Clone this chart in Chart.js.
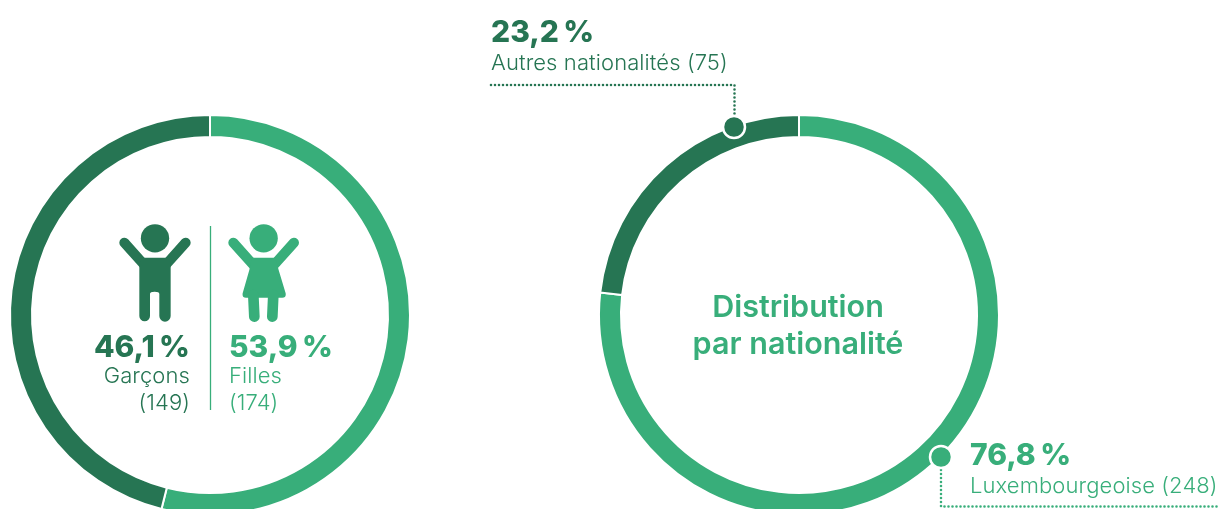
<!DOCTYPE html>
<html lang="fr"><head><meta charset="utf-8">
<script src="https://cdn.jsdelivr.net/npm/chart.js@4/dist/chart.umd.min.js"></script>
<style>
html,body{margin:0;padding:0;width:1218px;height:509px;overflow:hidden;background:#fff}
canvas,svg,.t{position:absolute}
svg{left:0;top:0}
.t{white-space:nowrap;line-height:1}
.big{font:800 30px Inter,sans-serif;letter-spacing:-.4px}
.small{font:300 22px Inter,sans-serif;letter-spacing:.1px}
.dark{color:#267553}.light{color:#38AE7A}
.title{font:600 30.5px/37px Inter,sans-serif;color:#38AE7A;text-align:center;width:300px;left:648px;top:287px}
</style></head><body>
<canvas id="c1" width="440" height="440" style="left:-10px;top:95px"></canvas>
<canvas id="c2" width="440" height="440" style="left:579px;top:95px"></canvas>
<svg width="1218" height="509">
 <g fill="none" stroke-linecap="round">
  <path d="M491 85H734.5V116" stroke="#267553" stroke-width="2.6" stroke-dasharray="0 4"/>
  <path d="M941 470V506.5H1218" stroke="#38AE7A" stroke-width="2.6" stroke-dasharray="0 4"/>
 </g>
 <circle cx="734" cy="127" r="11" fill="#267553" stroke="#fff" stroke-width="2.5"/>
 <circle cx="941" cy="457" r="11" fill="#38AE7A" stroke="#fff" stroke-width="2.5"/>
 <line x1="210.5" y1="226" x2="210.5" y2="410" stroke="#38AE7A" stroke-width="1.3"/>
 <g transform="translate(90 210) scale(.3333)">
  <g fill="#267553" stroke="#267553">
   <circle cx="195" cy="85" r="42.5" stroke="none"/>
   <path d="M103 98L163 165M287 98L227 165" stroke-width="30" stroke-linecap="round" fill="none"/>
   <path stroke="none" d="M160 143H230L242 160V318A17 17 0 0 1 208 318V252Q208 245 194 245Q180 245 180 252V318A16 16 0 0 1 148 318V160Z"/>
  </g>
  <g fill="#38AE7A" stroke="#38AE7A">
   <circle cx="521" cy="85" r="42.5" stroke="none"/>
   <path d="M430 98L490 165M612 98L552 165" stroke-width="30" stroke-linecap="round" fill="none"/>
   <path stroke="none" d="M486 143H556L566 180L587 250Q589 263 577 263H468Q456 263 458 250L478 180Z"/>
   <path d="M490 255L493 320M550 255L547 320" stroke-width="32" stroke-linecap="round" fill="none"/>
  </g>
 </g>
</svg>
<div id="labels"></div>
<script>
const genderCategories = ['Filles', 'Garçons'];
const genderPercent = [53.9, 46.1];
const genderCounts = [174, 149];
const nationalityCategories = ['Luxembourgeoise', 'Autres nationalités'];
const nationalityPercent = [76.8, 23.2];
const nationalityCounts = [248, 75];
const sliceColors = ['#38AE7A', '#267553'];
const centerTitle = ['Distribution', 'par nationalité'];

function donut(id, labels, data) {
  return new Chart(document.getElementById(id), {
    type: 'doughnut',
    data: { labels, datasets: [{ data, backgroundColor: sliceColors, borderColor: '#fff', borderWidth: 2 }] },
    options: {
      responsive: false, animation: false, radius: 200, cutout: '89%',
      layout: { padding: 0 },
      plugins: { legend: { display: false }, tooltip: { enabled: false } }
    }
  });
}
donut('c1', genderCategories, genderPercent);
donut('c2', nationalityCategories, nationalityPercent);

const pct = v => String(v).replace('.', ',') + '\u202F%';
const host = document.getElementById('labels');
function text(str, cls, pos) {
  const d = document.createElement('div');
  d.className = 't ' + cls;
  d.textContent = str;
  Object.assign(d.style, pos);
  host.appendChild(d);
  return d;
}
text(pct(genderPercent[1]), 'big dark', { right: (1218 - 190) + 'px', top: '328px' });
text(genderCategories[1], 'small dark', { right: (1218 - 190) + 'px', top: '362px' });
text('(' + genderCounts[1] + ')', 'small dark', { right: (1218 - 190) + 'px', top: '389px' });
text(pct(genderPercent[0]), 'big light', { left: '229px', top: '328px' });
text(genderCategories[0], 'small light', { left: '229px', top: '362px' });
text('(' + genderCounts[0] + ')', 'small light', { left: '229px', top: '389px' });
text(pct(nationalityPercent[1]), 'big dark', { left: '491px', top: '13px' });
text(nationalityCategories[1] + ' (' + nationalityCounts[1] + ')', 'small dark', { left: '491px', top: '49px' });
text(pct(nationalityPercent[0]), 'big light', { left: '970px', top: '436px' });
text(nationalityCategories[0] + ' (' + nationalityCounts[0] + ')', 'small light', { left: '970px', top: '472px' });
const ttl = text('', 'title', {});
ttl.innerHTML = centerTitle.join('<br>');
</script>
</body></html>
